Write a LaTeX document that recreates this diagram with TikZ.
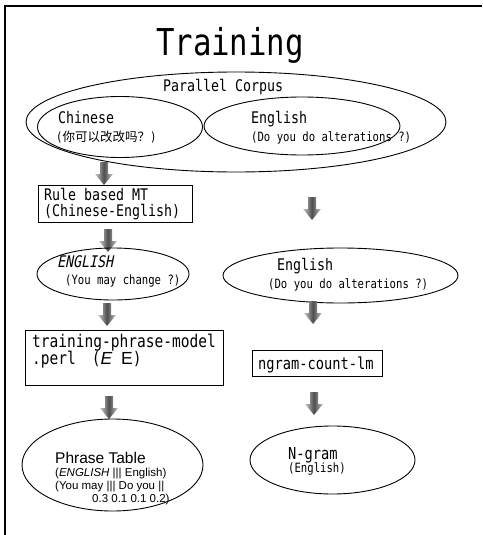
\documentclass[tikz,border=0pt]{standalone}
\usepackage{fontspec}
\usetikzlibrary{shapes.geometric}
\newfontfamily\gothic[FakeStretch=0.83]{DejaVu Sans Mono}
\newfontfamily\gothicit[FakeStretch=0.83,FakeSlant=0.2]{DejaVu Sans Mono}
\newfontfamily\cjk{Noto Sans CJK SC}
\newfontfamily\arialf{Liberation Sans}
\tikzset{
  oval/.style={draw, ellipse, line width=0.9pt, inner sep=0pt},
  rbox/.style={draw, rectangle, line width=0.9pt, inner sep=0pt},
  txt/.style={anchor=base west, inner sep=0pt},
  big/.style={font=\gothic\fontsize{16}{16}\selectfont},
  small/.style={font=\gothic\fontsize{12.8}{12.8}\selectfont},
  pics/blockarrow/.style={code={
    \shade[left color=gray!40, right color=gray!40, middle color=black!70]
      (-4,0) -- (4,0) -- (4,12) -- (9,12) -- (0,23) -- (-9,12) -- (-4,12) -- cycle;
  }}
}
\begin{document}
\begin{tikzpicture}[x=1pt,y=-1pt]
\useasboundingbox (0,0) rectangle (482,535);
% frame
\coordinate (fr1) at (482,6);
\coordinate (fr2) at (5,6);
\coordinate (fr3) at (5,535);
\draw[line width=1.2pt] (fr1) -- (fr2) -- (fr3);
% title
\node[anchor=base, inner sep=0pt, font=\gothic\fontsize{37}{37}\selectfont] (title) at (230,56) {Training};
% parallel corpus
\node[oval, minimum width=420, minimum height=100] (pc) at (236,122) {};
\node[txt, big] (pct) at (163,92) {Parallel Corpus};
\node[oval, minimum width=165, minimum height=61] (zh) at (120,127) {};
\node[txt, big] (zht) at (58,123) {Chinese};
\node[txt] (zht2) at (56,141) {\gothic\fontsize{12.8}{12.8}\selectfont(\cjk\fontsize{12.5}{12.5}\selectfont 你可以改改吗？\gothic\fontsize{12.8}{12.8}\selectfont)};
\node[oval, minimum width=196, minimum height=58] (en) at (302,126) {};
\node[txt, big] (ent) at (251,123) {English};
\node[txt, small] (ent2) at (251,141) {(Do you do alterations ?)};
% left column
\pic (a1) at (104,162) {blockarrow};
\node[rbox, minimum width=154, minimum height=37] (rb) at (115,203.5) {};
\node[txt, big] (rbt) at (44,200) {Rule based MT};
\node[txt, big] (rbt2) at (44,216) {(Chinese-English)};
\pic (a3) at (108,229) {blockarrow};
\node[oval, minimum width=152, minimum height=52] (eng) at (113,274) {};
\node[txt, font=\gothicit\fontsize{16}{16}\selectfont] (engt) at (57,267) {ENGLISH};
\node[txt, small] (engt2) at (65,284) {(You may change ?)};
\pic (a4) at (107,303) {blockarrow};
\node[rbox, minimum width=198, minimum height=55] (tp) at (124,357.5) {};
\node[txt, font=\gothic\fontsize{17.5}{17.5}\selectfont] (tpt) at (32,347) {training-phrase-model};
\node[txt, font=\gothic\fontsize{17.5}{17.5}\selectfont] (tpt2) at (32,364) {.perl\hspace{16pt}({\arialf\itshape E} {\arialf E})};
\pic (a6) at (109,396) {blockarrow};
\node[oval, minimum width=181, minimum height=92] (pt) at (112.5,465) {};
\node[txt, font=\arialf\fontsize{15.5}{15.5}\selectfont] (ptt) at (55,463) {Phrase Table};
\node[txt, font=\arialf\fontsize{11.5}{11.5}\selectfont] (ptt2) at (55,476) {(\textit{ENGLISH} ||| English)};
\node[txt, font=\arialf\fontsize{11.5}{11.5}\selectfont] (ptt3) at (55,489) {(You may ||| Do you ||};
\node[txt, font=\arialf\fontsize{11.5}{11.5}\selectfont] (ptt4) at (92,502) {0.3 0.1 0.1 0.2)};
% right column
\pic (a2) at (312,197) {blockarrow};
\node[oval, minimum width=235, minimum height=55] (en2) at (340.5,275.5) {};
\node[txt, big] (en2t) at (277,270) {English};
\node[txt, small] (en2t2) at (268,288) {(Do you do alterations ?)};
\pic (a5) at (313,301) {blockarrow};
\node[rbox, minimum width=130, minimum height=26] (ng) at (317,363) {};
\node[txt, font=\gothic\fontsize{16.5}{16.5}\selectfont] (ngt) at (258,369) {ngram-count-lm};
\pic (a7) at (314,392) {blockarrow};
\node[oval, minimum width=165, minimum height=68] (ngr) at (332.5,460) {};
\node[txt, font=\gothic\fontsize{16.5}{16.5}\selectfont] (ngrt) at (288,459) {N-gram};
\node[txt, small] (ngrt2) at (288,472) {(English)};
\end{tikzpicture}
\end{document}
